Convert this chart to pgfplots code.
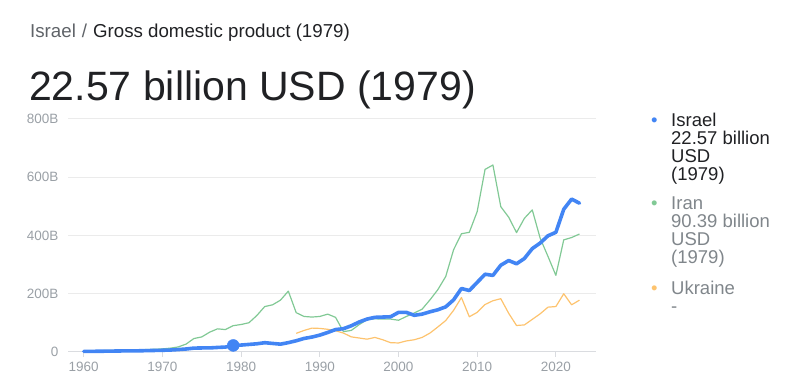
\documentclass[border=0pt]{standalone}
\usepackage{pgfplots}
\pgfplotsset{compat=1.18}
\usepackage{pgfplotstable}
\usepackage{fontspec}
\setmainfont{Liberation Sans}
\definecolor{isr}{HTML}{4285F4}
\definecolor{irn}{HTML}{81C995}
\definecolor{ukr}{HTML}{FDC36E}
\definecolor{tickc}{HTML}{9AA0A6}
\definecolor{dark}{HTML}{202124}
\definecolor{mid}{HTML}{5F6368}
\definecolor{leg}{HTML}{80868B}
\definecolor{gridc}{HTML}{EBEBEB}
\definecolor{basec}{HTML}{DADCE0}
\pgfplotstableread{
year val
1960 2.0
1961 2.3
1962 2.5
1963 2.9
1964 3.3
1965 3.7
1966 4.0
1967 4.1
1968 4.7
1969 5.3
1970 5.9
1971 6.7
1972 8.3
1973 10.3
1974 13.3
1975 13.9
1976 14.0
1977 15.6
1978 16.9
1979 22.57
1980 23.8
1981 26.0
1982 28.2
1983 31.9
1984 29.4
1985 26.9
1986 32.1
1987 38.6
1988 46.5
1989 51.3
1990 58
1991 67
1992 77
1993 80
1994 90
1995 103
1996 113
1997 119
1998 120
1999 121
2000 136
2001 136
2002 126
2003 130
2004 138
2005 145
2006 155
2007 179
2008 218
2009 211
2010 239
2011 267
2012 263
2013 298
2014 314
2015 303
2016 321
2017 355
2018 374
2019 399
2020 411
2021 490
2022 525
2023 511
}\israel
\pgfplotstableread{
year val
1960 4.2
1961 4.4
1962 4.7
1963 4.9
1964 5.4
1965 6.2
1966 6.7
1967 7.5
1968 8.4
1969 9.3
1970 10.6
1971 13.2
1972 17.3
1973 27.1
1974 46.2
1975 51.8
1976 68.1
1977 79.5
1978 77.0
1979 90.39
1980 94.4
1981 100.5
1982 125.4
1983 156
1984 162
1985 178
1986 209
1987 135
1988 122
1989 120
1990 122
1991 130
1992 119
1993 70
1994 74
1995 94
1996 111
1997 114
1998 113
1999 113
2000 109
2001 122
2002 134
2003 147
2004 179
2005 214
2006 259
2007 351
2008 406
2009 411
2010 482
2011 627
2012 642
2013 499
2014 463
2015 410
2016 459
2017 488
2018 391
2019 328
2020 263
2021 385
2022 393
2023 405
}\iran
\pgfplotstableread{
year val
1987 64
1988 74
1989 82
1990 81
1991 78
1992 73
1993 65
1994 52
1995 48
1996 44
1997 50
1998 42
1999 32
2000 31
2001 38
2002 42
2003 50
2004 65
2005 86
2006 108
2007 143
2008 187
2009 121
2010 136
2011 163
2012 176
2013 183
2014 133
2015 91
2016 93
2017 112
2018 131
2019 154
2020 156
2021 200
2022 162
2023 178
}\ukraine
\begin{document}
\begin{tikzpicture}[x=1pt,y=1pt]
\useasboundingbox (0,0) rectangle (802,387);
\node[anchor=base west,inner sep=0pt,font=\fontsize{18.7}{21}\selectfont] at (30,349)
  {\textcolor{mid}{Israel}\hspace{6pt}\textcolor{mid}{/}\hspace{6pt}\textcolor{dark}{Gross domestic product (1979)}};
\node[anchor=base west,inner sep=0pt,font=\fontsize{41}{46}\selectfont,text=dark] at (29,286)
  {22.57 billion USD (1979)};
\begin{axis}[
  at={(68pt,35pt)}, anchor=south west,
  scale only axis, width=528pt, height=233pt,
  xmin=1958, xmax=2025.1, ymin=0, ymax=800,
  axis lines=left,
  axis line style={-},
  y axis line style={draw=none},
  x axis line style={basec, line width=1pt},
  clip=false,
  xtick={1960,1970,1980,1990,2000,2010,2020},
  xticklabels={1960,1970,1980,1990,2000,2010,2020},
  ytick={0,200,400,600,800},
  yticklabels={0,200B,400B,600B,800B},
  tick label style={font=\fontsize{13.5}{15}\selectfont, text=tickc},
  xmajorgrids=false, ymajorgrids=true,
  grid style={draw=gridc, line width=1pt},
  ytick style={draw=none},
  xtick style={draw=basec, line width=1pt},
  tick align=outside,
  major tick length=5pt,
  xticklabel style={yshift=-2pt},
  yticklabel style={xshift=-1pt},
]
\addplot[ukr, line width=1.2pt, line join=round] table[x=year,y=val] {\ukraine};
\addplot[irn, line width=1.2pt, line join=round] table[x=year,y=val] {\iran};
\addplot[isr, line width=3.6pt, line join=round, line cap=round] table[x=year,y=val] {\israel};
\addplot[only marks, mark=*, mark size=6pt, isr] coordinates {(1979,22.57)};
\end{axis}
\begin{scope}[font=\fontsize{18.5}{20}\selectfont]
\node[anchor=base west,inner sep=0pt,text=isr] at (651,260) {•};
\node[anchor=base west,inner sep=0pt,text=dark] at (671,260) {Israel};
\node[anchor=base west,inner sep=0pt,text=dark] at (671,242) {22.57 billion};
\node[anchor=base west,inner sep=0pt,text=dark] at (671,224) {USD};
\node[anchor=base west,inner sep=0pt,text=dark] at (671,206) {(1979)};
\node[anchor=base west,inner sep=0pt,text=irn] at (651,177) {•};
\node[anchor=base west,inner sep=0pt,text=leg] at (671,177) {Iran};
\node[anchor=base west,inner sep=0pt,text=leg] at (671,159) {90.39 billion};
\node[anchor=base west,inner sep=0pt,text=leg] at (671,141) {USD};
\node[anchor=base west,inner sep=0pt,text=leg] at (671,123) {(1979)};
\node[anchor=base west,inner sep=0pt,text=ukr] at (651,92) {•};
\node[anchor=base west,inner sep=0pt,text=leg] at (671,92) {Ukraine};
\node[anchor=base west,inner sep=0pt,text=leg] at (671,74) {-};
\end{scope}
\end{tikzpicture}
\end{document}
